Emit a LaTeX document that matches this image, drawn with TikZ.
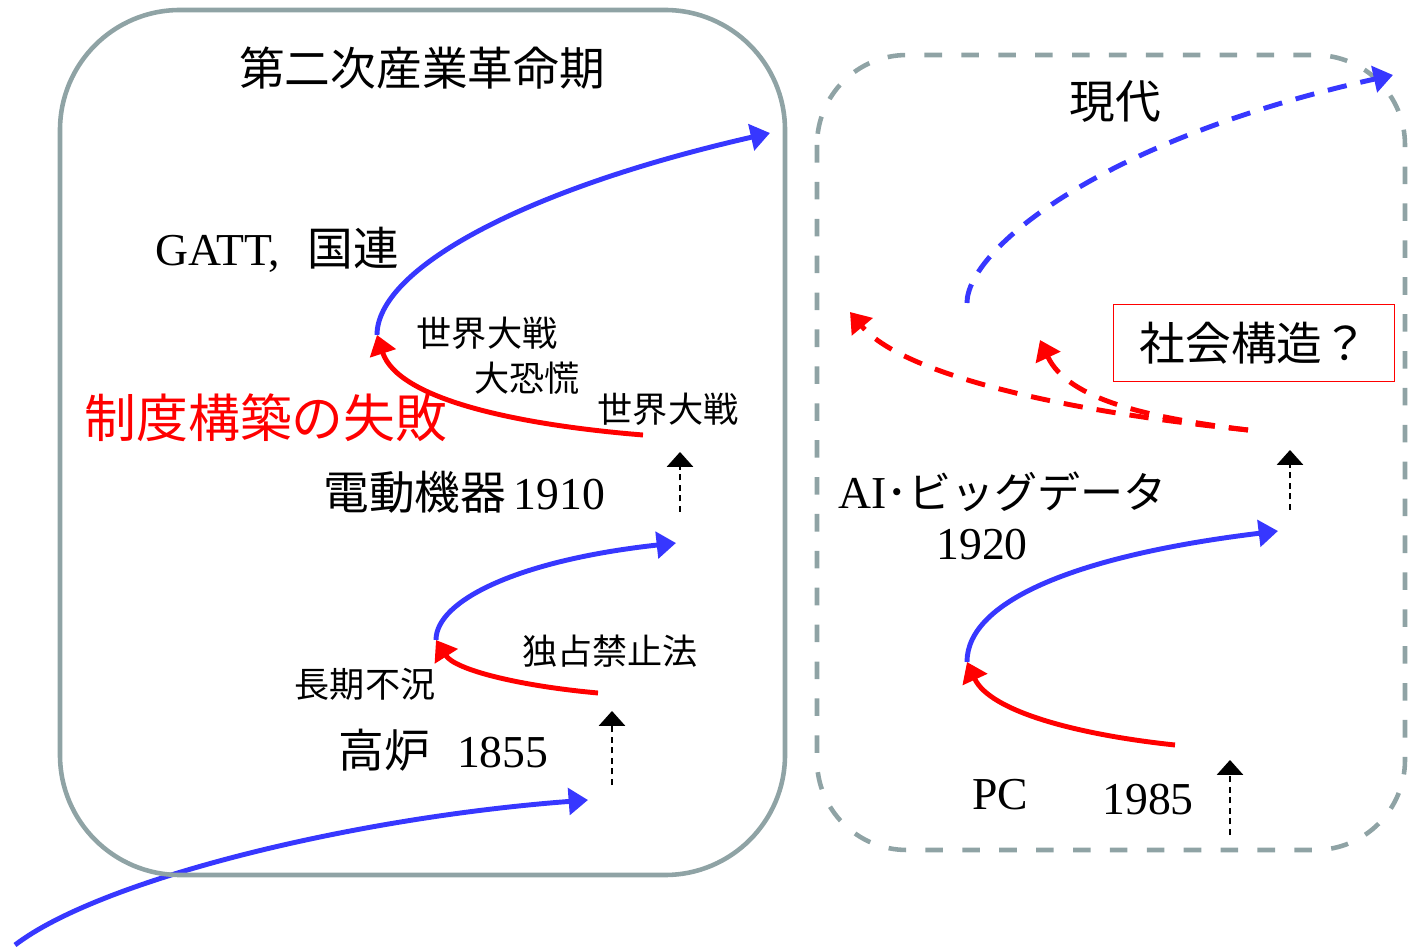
\documentclass[tikz,border=0pt]{standalone}
\usepackage{fontspec}
\setmainfont{Liberation Serif}
\newfontfamily\jp{Noto Sans CJK JP}
\usetikzlibrary{arrows.meta}

\definecolor{boxgray}{RGB}{143,163,165}
\definecolor{waveblue}{RGB}{55,55,255}

\tikzset{
	upwave/.style={draw=waveblue, line width=2.8pt, -{Triangle[length=11pt,width=15pt]}},
	downwave/.style={draw=red, line width=2.8pt, -{Triangle[length=11pt,width=15pt]}},
	future/.style={dash pattern=on 11pt off 8pt},
	tickarrow/.style={dash pattern=on 3.5pt off 2.5pt, line width=1pt, -{Triangle[length=8.5pt,width=15pt]}},
	bigtext/.style={inner sep=0pt, font=\fontsize{26}{30}\selectfont},
	smalltext/.style={inner sep=0pt, font=\jp\fontsize{20}{24}\selectfont},
}

\begin{document}
\begin{tikzpicture}[x=0.02cm, y=-0.02cm]
	\useasboundingbox (0,0) rectangle (1411,949);
	
	% curve ends
	\coordinate (s0) at (15,945);
	\coordinate (s1) at (588,800);
	\coordinate (r1s) at (598,693);
	\coordinate (k1) at (436,640);
	\coordinate (u1e) at (676,543);
	\coordinate (r2s) at (643,435);
	\coordinate (k2) at (377,335);
	\coordinate (u2e) at (770,133);
	\coordinate (r3s) at (1175,745);
	\coordinate (k3) at (967,662);
	\coordinate (u3e) at (1278,531);
	\coordinate (d0) at (967,303);
	\coordinate (d1) at (1393,75);
	\coordinate (f0) at (1248,430);
	\coordinate (f1) at (850,312);
	\coordinate (f2) at (1040,340);
	
	\draw[upwave] (s0) .. controls (100,880) and (350,818) .. (s1);
	
	% boxes
	\draw[boxgray, line width=2.6pt, rounded corners=2.4cm] (60,10) rectangle (785,875);
	\draw[boxgray, line width=2.6pt, dash pattern=on 10pt off 11pt, rounded corners=1.8cm] (817,55) rectangle (1405,850);
	
	\draw[downwave] (r1s) .. controls (520,686) and (455,670) .. (k1);
	\draw[upwave] (k1) .. controls (436,600) and (520,560) .. (u1e);
	\draw[downwave] (r2s) .. controls (520,425) and (398,400) .. (k2);
	\draw[upwave] (k2) .. controls (377,270) and (520,190) .. (u2e);
	\draw[downwave] (r3s) .. controls (1080,735) and (990,712) .. (k3);
	\draw[upwave] (k3) .. controls (967,600) and (1080,555) .. (u3e);
	\draw[upwave, future] (d0) .. controls (967,250) and (1100,140) .. (d1);
	\draw[downwave, future] (f0) .. controls (1050,410) and (900,372) .. (f1);
	\draw[downwave, future] (f0) .. controls (1150,418) and (1068,400) .. (f2);
	
	% small arrows
	\coordinate (t1a) at (612,785);
	\coordinate (t1b) at (612,711);
	\coordinate (t2a) at (680,512);
	\coordinate (t2b) at (680,452);
	\coordinate (t3a) at (1290,510);
	\coordinate (t3b) at (1290,450);
	\coordinate (t4a) at (1230,835);
	\coordinate (t4b) at (1230,760);
	\draw[tickarrow] (t1a) -- (t1b);
	\draw[tickarrow] (t2a) -- (t2b);
	\draw[tickarrow] (t3a) -- (t3b);
	\draw[tickarrow] (t4a) -- (t4b);
	
	% labels
	\node[bigtext, font=\jp\fontsize{26}{30}\selectfont] (era2) at (422,68) {第二次産業革命期};
	\node[bigtext, font=\jp\fontsize{26}{30}\selectfont] (now) at (1115,102) {現代};
	\node[bigtext, anchor=west] (gatt) at (155,250) {GATT,\hspace{0.6em}{\jp 国連}};
	\node[smalltext] (war1) at (487,333) {世界大戦};
	\node[smalltext] (crash) at (527,378) {大恐慌};
	\node[smalltext] (war2) at (668,409) {世界大戦};
	\node[inner sep=0pt, text=red, font=\jp\fontsize{29.5}{34}\selectfont] (fail) at (266,418) {制度構築の失敗};
	\node[bigtext, anchor=west] (motor) at (323,492) {{\jp 電動機器}\,1910};
	\node[smalltext] (trust) at (610,651) {独占禁止法};
	\node[smalltext] (slump) at (365,684) {長期不況};
	\node[bigtext, anchor=west] (furnace) at (338,750) {{\jp 高炉}\hspace{0.6em}1855};
	\node[draw=red, line width=0.9pt, inner sep=0pt, minimum width=281*0.02cm, minimum height=77*0.02cm, font=\jp\fontsize{26}{30}\selectfont] (social) at (1254,343) {社会構造？};
	\node[bigtext, anchor=west] (ai) at (838,492) {AI{\jp\fontsize{24.5}{30}\selectfont ･ビッグデータ}};
	\node[bigtext] (y1920) at (982,545) {1920};
	\node[bigtext] (pc) at (1000,795) {PC};
	\node[bigtext] (y1985) at (1148,800) {1985};
\end{tikzpicture}
\end{document}
